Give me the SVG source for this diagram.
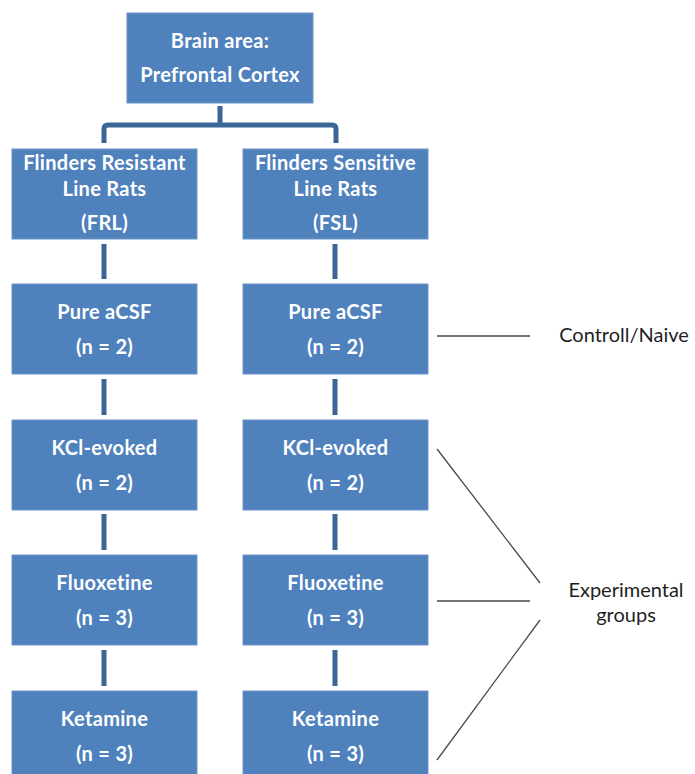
<svg xmlns="http://www.w3.org/2000/svg" width="695" height="774" viewBox="0 0 695 774">
<style>
.box{fill:#4f81bd;stroke:#6d94c6;stroke-width:1}
.t{font-family:Lato,"Open Sans","Liberation Sans",sans-serif;font-weight:bold;font-size:20px;letter-spacing:0.3px;fill:#ffffff;text-anchor:middle}
.lbl{font-family:Lato,"Open Sans","Liberation Sans",sans-serif;font-size:20px;fill:#1f1f1f;text-anchor:middle}
.c{stroke:#3c6696;stroke-width:5;fill:none}
.g{stroke:#4a4a4a;stroke-width:1.3;fill:none}
</style>
<rect width="695" height="774" fill="#ffffff"/>
<g id="connectors">
<path class="c" d="M220 106V125M104 143V129Q104 125 108 125H332Q336 125 336 129V143"/>
<path class="c" d="M104 244V279M104 379V415M104 514V550M104 650V686"/>
<path class="c" d="M335 244V279M335 379V415M335 514V550M335 650V686"/>
<path class="g" d="M437 336H530M437 449L540 583M437 601H530M540 620L437 760"/>
</g>
<g id="brain"><rect class="box" x="127" y="13" width="186" height="90"/><text class="t" x="220" y="48">Brain area:</text><text class="t" x="220" y="82">Prefrontal Cortex</text></g>
<g id="frl"><rect class="box" x="12" y="149" width="185" height="90"/><text class="t" x="104.5" y="170">Flinders Resistant</text><text class="t" x="104.5" y="196">Line Rats</text><text class="t" x="104.5" y="230">(FRL)</text></g>
<g id="fsl"><rect class="box" x="243" y="149" width="185" height="90"/><text class="t" x="335.5" y="170">Flinders Sensitive</text><text class="t" x="335.5" y="196">Line Rats</text><text class="t" x="335.5" y="230">(FSL)</text></g>
<g id="frl-acsf"><rect class="box" x="12" y="284" width="185" height="90"/><text class="t" x="104.5" y="319">Pure aCSF</text><text class="t" x="104.5" y="354">(n = 2)</text></g>
<g id="fsl-acsf"><rect class="box" x="243" y="284" width="185" height="90"/><text class="t" x="335.5" y="319">Pure aCSF</text><text class="t" x="335.5" y="354">(n = 2)</text></g>
<g id="frl-kcl"><rect class="box" x="12" y="420" width="185" height="90"/><text class="t" x="104.5" y="455">KCl-evoked</text><text class="t" x="104.5" y="490">(n = 2)</text></g>
<g id="fsl-kcl"><rect class="box" x="243" y="420" width="185" height="90"/><text class="t" x="335.5" y="455">KCl-evoked</text><text class="t" x="335.5" y="490">(n = 2)</text></g>
<g id="frl-flx"><rect class="box" x="12" y="555" width="185" height="90"/><text class="t" x="104.5" y="590">Fluoxetine</text><text class="t" x="104.5" y="625">(n = 3)</text></g>
<g id="fsl-flx"><rect class="box" x="243" y="555" width="185" height="90"/><text class="t" x="335.5" y="590">Fluoxetine</text><text class="t" x="335.5" y="625">(n = 3)</text></g>
<g id="frl-ket"><rect class="box" x="12" y="691" width="185" height="90"/><text class="t" x="104.5" y="726">Ketamine</text><text class="t" x="104.5" y="761">(n = 3)</text></g>
<g id="fsl-ket"><rect class="box" x="243" y="691" width="185" height="90"/><text class="t" x="335.5" y="726">Ketamine</text><text class="t" x="335.5" y="761">(n = 3)</text></g>
<g id="control-label"><text class="lbl" x="624" y="342">Controll/Naive</text></g>
<g id="exp-label"><text class="lbl" x="626" y="597">Experimental</text><text class="lbl" x="626" y="622">groups</text></g>
</svg>
